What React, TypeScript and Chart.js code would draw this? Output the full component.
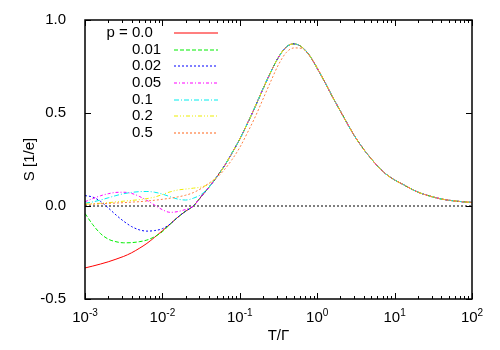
import React, { useEffect, useRef } from "react";
import { Chart, registerables } from "chart.js";

Chart.register(...registerables);

// log10(T/Γ) sample positions
const logT = [
  -3.0, -2.9, -2.8, -2.7, -2.6, -2.5, -2.4, -2.3, -2.2, -2.1,
  -2.0, -1.9, -1.8, -1.7, -1.6, -1.5, -1.4, -1.3, -1.2, -1.1,
  -1.0, -0.9, -0.8, -0.7, -0.6, -0.5, -0.4, -0.3, -0.2, -0.1,
  0.0, 0.1, 0.2, 0.3, 0.4, 0.5, 0.6, 0.7, 0.8, 0.9,
  1.0, 1.1, 1.2, 1.3, 1.4, 1.5, 1.6, 1.7, 1.8, 1.9, 2.0,
];

const pLabels = ["0.0", "0.01", "0.02", "0.05", "0.1", "0.2", "0.5"];

// p = 0.0 (full curve)
const sP000 = [
  -0.333, -0.323, -0.312, -0.300, -0.286, -0.271, -0.252, -0.228, -0.201, -0.168,
  -0.133, -0.097, -0.060, -0.028, 0.000, 0.050, 0.100, 0.155, 0.215, 0.285,
  0.360, 0.445, 0.535, 0.630, 0.720, 0.800, 0.855, 0.872, 0.855, 0.810,
  0.740, 0.665, 0.585, 0.510, 0.435, 0.365, 0.305, 0.253, 0.205, 0.168,
  0.140, 0.118, 0.095, 0.075, 0.060, 0.048, 0.038, 0.031, 0.026, 0.022, 0.019,
];

// low-temperature parts where the other curves differ from p = 0.0
const sP001Low = [-0.040, -0.100, -0.148, -0.178, -0.192, -0.198, -0.197, -0.192, -0.183, -0.165, -0.138, -0.098];
const sP002Low = [0.056, 0.048, 0.025, -0.010, -0.048, -0.082, -0.110, -0.128, -0.135, -0.132, -0.122, -0.097];
const sP005Low = [0.023, 0.040, 0.055, 0.066, 0.073, 0.074, 0.068, 0.052, 0.030, 0.005, -0.020, -0.034, -0.030, -0.018];
const sP010Low = [0.015, 0.022, 0.032, 0.044, 0.056, 0.066, 0.073, 0.077, 0.078, 0.074, 0.064, 0.050, 0.037, 0.032, 0.042, 0.062];
const sP020Low = [0.010, 0.012, 0.015, 0.018, 0.022, 0.026, 0.030, 0.034, 0.040, 0.048, 0.062, 0.076, 0.086, 0.091, 0.096, 0.102, 0.118];
const sP050Low = [
  0.009, 0.010, 0.012, 0.014, 0.016, 0.018, 0.021, 0.023, 0.027, 0.031,
  0.036, 0.042, 0.049, 0.058, 0.072, 0.094, 0.122, 0.152, 0.195, 0.250,
  0.315, 0.395, 0.480, 0.575, 0.670, 0.760, 0.825, 0.850, 0.847, 0.808, 0.745,
];

const yTicks = [-0.5, 0.0, 0.5, 1.0];
const xTickExponents = [-3, -2, -1, 0, 1, 2];
const xTickLabels = ["-3", "-2", "-1", "0", "1", "2"];

const colors = ["#ff0000", "#00ee00", "#0000ff", "#ff00ff", "#00eeee", "#eeee00", "#ff7f3f"];
const dashes: number[][] = [[], [4, 2], [2, 2], [3, 2, 1, 2], [5, 2, 1, 2], [4, 2, 1, 2, 1, 2], [2, 2]];

const FONT = "'Liberation Sans', Arial, sans-serif";

function fill(low: number[]): number[] {
  return [...low, ...sP000.slice(low.length)];
}

export default function App() {
  const ref = useRef<HTMLCanvasElement>(null);

  useEffect(() => {
    if (!ref.current) return;
    const all = [sP000, fill(sP001Low), fill(sP002Low), fill(sP005Low), fill(sP010Low), fill(sP020Low), fill(sP050Low)];
    const datasets: any[] = all.map((vals, i) => ({
      label: pLabels[i],
      data: logT.map((l, k) => ({ x: Math.pow(10, l), y: vals[k] })),
      borderColor: colors[i],
      borderDash: dashes[i],
      borderWidth: 1,
      pointRadius: 0,
      fill: false,
      cubicInterpolationMode: "monotone",
      order: 10 - i,
    }));
    datasets.push({
      label: "zero",
      data: [
        { x: 0.001, y: 0 },
        { x: 100, y: 0 },
      ],
      borderColor: "#000000",
      borderDash: [2, 2],
      borderWidth: 1,
      pointRadius: 0,
      fill: false,
      order: 20,
    });

    const decor = {
      id: "decor",
      afterDraw(chart: any) {
        const ctx = chart.ctx;
        const { left, right, top, bottom } = chart.chartArea;
        const xs = chart.scales.x;
        const ys = chart.scales.y;
        ctx.save();
        ctx.strokeStyle = "#000";
        ctx.lineWidth = 1;
        ctx.setLineDash([]);
        // x ticks (inward, bottom and top)
        for (let e = -3; e <= 2; e++) {
          for (let m = 1; m <= 9; m++) {
            if (e === 2 && m > 1) break;
            const v = m * Math.pow(10, e);
            const px = Math.round(xs.getPixelForValue(v)) + 0.5;
            const len = m === 1 ? 6 : 3;
            ctx.beginPath();
            ctx.moveTo(px, bottom);
            ctx.lineTo(px, bottom - len);
            ctx.moveTo(px, top);
            ctx.lineTo(px, top + len);
            ctx.stroke();
          }
        }
        // y ticks
        yTicks.forEach((v) => {
          const py = Math.round(ys.getPixelForValue(v)) + 0.5;
          ctx.beginPath();
          ctx.moveTo(left, py);
          ctx.lineTo(left + 6, py);
          ctx.moveTo(right, py);
          ctx.lineTo(right - 6, py);
          ctx.stroke();
        });
        // frame
        ctx.lineWidth = 1.5;
        ctx.strokeRect(left, top, right - left, bottom - top);
        // x tick labels with superscripts
        ctx.fillStyle = "#000";
        ctx.textBaseline = "alphabetic";
        ctx.textAlign = "left";
        xTickExponents.forEach((e, i) => {
          const px = xs.getPixelForValue(Math.pow(10, e));
          ctx.font = `15px ${FONT}`;
          const wb = ctx.measureText("10").width;
          ctx.font = `10px ${FONT}`;
          const ws = ctx.measureText(xTickLabels[i]).width;
          const start = px - (wb + ws) / 2;
          ctx.font = `15px ${FONT}`;
          ctx.fillText("10", start, 322);
          ctx.font = `10px ${FONT}`;
          ctx.fillText(xTickLabels[i], start + wb, 316);
        });
        // legend
        ctx.font = `15px ${FONT}`;
        ctx.textBaseline = "middle";
        for (let i = 0; i < pLabels.length; i++) {
          const rowY = 33 + i * 16.67;
          ctx.fillStyle = "#000";
          if (i === 0) {
            ctx.textAlign = "right";
            ctx.fillText("p = ", 132, rowY);
          }
          ctx.textAlign = "left";
          ctx.fillText(pLabels[i], 132, rowY);
          ctx.strokeStyle = colors[i];
          ctx.lineWidth = 1.2;
          ctx.setLineDash(dashes[i]);
          ctx.beginPath();
          ctx.moveTo(174, Math.round(rowY));
          ctx.lineTo(218, Math.round(rowY));
          ctx.stroke();
        }
        ctx.restore();
      },
    };

    const chart = new Chart(ref.current, {
      type: "line",
      data: { datasets },
      options: {
        animation: false,
        responsive: true,
        maintainAspectRatio: false,
        layout: { padding: { left: 0, top: 20, right: 28, bottom: 0 } },
        plugins: { legend: { display: false }, tooltip: { enabled: false } },
        scales: {
          x: {
            type: "logarithmic",
            min: 0.001,
            max: 100,
            grid: { display: false },
            border: { display: false },
            ticks: { display: false },
            title: {
              display: true,
              text: "T/Γ",
              color: "#000",
              font: { family: FONT, size: 15 },
              padding: { top: 0, bottom: 5 },
            },
            afterFit: (s: any) => {
              s.height = 51;
            },
          },
          y: {
            type: "linear",
            min: -0.5,
            max: 1.0,
            afterBuildTicks: (s: any) => {
              s.ticks = yTicks.map((v) => ({ value: v }));
            },
            grid: { display: false },
            border: { display: false },
            ticks: {
              color: "#000",
              padding: 11,
              font: { family: FONT, size: 15 },
              callback: (v: any) => Number(v).toFixed(1),
            },
            title: {
              display: true,
              text: "S [1/e]",
              color: "#000",
              font: { family: FONT, size: 15 },
              padding: { top: 21, bottom: 0 },
            },
            afterFit: (s: any) => {
              s.width = 85;
            },
          },
        },
      },
      plugins: [decor],
    } as any);
    return () => chart.destroy();
  }, []);

  return (
    <div style={{ position: "fixed", left: 0, top: 0, width: 500, height: 350, background: "#fff" }}>
      <canvas ref={ref} />
    </div>
  );
}
